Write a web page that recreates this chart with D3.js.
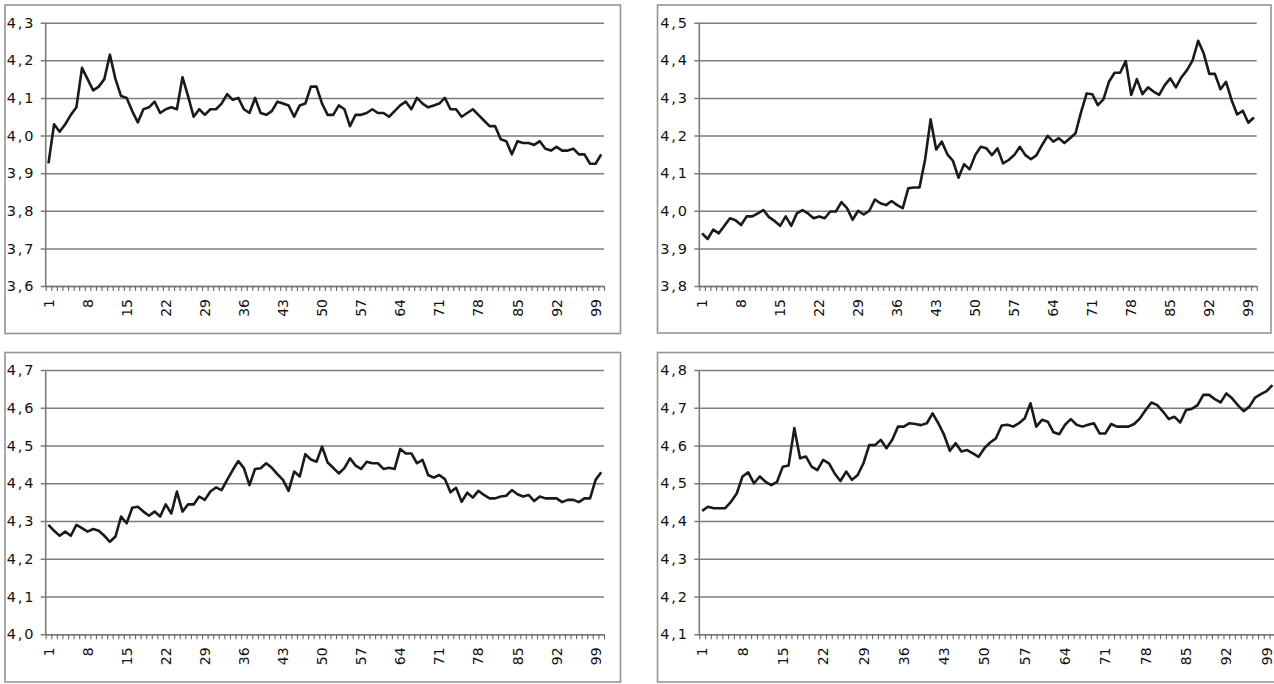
<!DOCTYPE html>
<html>
<head>
<meta charset="utf-8">
<script src="https://cdn.jsdelivr.net/npm/d3@7"></script>
<style>
  html, body { margin: 0; padding: 0; background: #fff; }
  svg { display: block; }
  text { font-family: "DejaVu Sans", "Liberation Sans", Arial, sans-serif; fill: #111; }
</style>
</head>
<body>
<svg id="chart" width="1274" height="684"></svg>
<script>
// categories 1..100, labels every 7th
const categories = d3.range(1, 101);
const xTickLabels = [1, 8, 15, 22, 29, 36, 43, 50, 57, 64, 71, 78, 85, 92, 99];

// y ticks per panel
const yTicks1 = [3.6, 3.7, 3.8, 3.9, 4.0, 4.1, 4.2, 4.3];
const yTicks2 = [3.8, 3.9, 4.0, 4.1, 4.2, 4.3, 4.4, 4.5];
const yTicks3 = [4.0, 4.1, 4.2, 4.3, 4.4, 4.5, 4.6, 4.7];
const yTicks4 = [4.1, 4.2, 4.3, 4.4, 4.5, 4.6, 4.7, 4.8];

// series values
const series1 = [
  3.926, 4.03, 4.01, 4.03, 4.055, 4.075, 4.18, 4.15, 4.12, 4.13,
  4.15, 4.215, 4.15, 4.105, 4.10, 4.065, 4.035, 4.07, 4.075, 4.09,
  4.06, 4.07, 4.075, 4.07, 4.155, 4.105, 4.05, 4.07, 4.055, 4.07,
  4.07, 4.085, 4.11, 4.095, 4.10, 4.07, 4.06, 4.10, 4.06, 4.055,
  4.065, 4.09, 4.085, 4.08, 4.05, 4.08, 4.085, 4.13, 4.13, 4.085,
  4.055, 4.055, 4.08, 4.07, 4.025, 4.055, 4.055, 4.06, 4.07, 4.06,
  4.06, 4.05, 4.065, 4.08, 4.09, 4.07, 4.10, 4.085, 4.075, 4.08,
  4.085, 4.10, 4.07, 4.07, 4.05, 4.06, 4.07, 4.055, 4.04, 4.025,
  4.025, 3.99, 3.985, 3.95, 3.985, 3.98, 3.98, 3.975, 3.985, 3.965,
  3.96, 3.97, 3.96, 3.96, 3.965, 3.95, 3.95, 3.925, 3.925, 3.95
];
const series2 = [
  3.94, 3.925, 3.95, 3.94, 3.96, 3.98, 3.975, 3.962, 3.985, 3.985,
  3.993, 4.002, 3.983, 3.973, 3.96, 3.985, 3.96, 3.993, 4.002, 3.993,
  3.98, 3.985, 3.98, 3.998, 3.998, 4.023, 4.007, 3.976, 4.0, 3.99,
  4.0, 4.03, 4.02, 4.015, 4.026, 4.015, 4.007, 4.06, 4.062, 4.062,
  4.135, 4.243, 4.163, 4.184, 4.15, 4.133, 4.088, 4.124, 4.11, 4.148,
  4.17, 4.166, 4.148, 4.166, 4.126, 4.135, 4.148, 4.17, 4.148, 4.137,
  4.148, 4.175, 4.199, 4.184, 4.193, 4.18, 4.193, 4.206, 4.263, 4.312,
  4.31, 4.281, 4.296, 4.343, 4.367, 4.367, 4.398, 4.308, 4.35, 4.31,
  4.328, 4.317, 4.308, 4.334, 4.352, 4.328, 4.355, 4.374, 4.40, 4.452,
  4.418, 4.364, 4.364, 4.323, 4.343, 4.294, 4.256, 4.266, 4.234, 4.248
];
const series3 = [
  4.29, 4.274, 4.261, 4.272, 4.261, 4.29, 4.281, 4.272, 4.279, 4.274,
  4.261, 4.245, 4.259, 4.312, 4.294, 4.335, 4.338, 4.325, 4.314, 4.325,
  4.312, 4.344, 4.32, 4.378, 4.325, 4.344, 4.344, 4.365, 4.356, 4.378,
  4.389, 4.382, 4.409, 4.435, 4.459, 4.44, 4.395, 4.438, 4.44, 4.453,
  4.441, 4.424, 4.409, 4.38, 4.431, 4.418, 4.477, 4.463, 4.457, 4.497,
  4.455, 4.441, 4.426, 4.44, 4.466, 4.447, 4.438, 4.457, 4.453, 4.453,
  4.438, 4.441, 4.438, 4.491, 4.479, 4.479, 4.453, 4.462, 4.422, 4.415,
  4.422, 4.411, 4.376, 4.388, 4.351, 4.375, 4.362, 4.38, 4.369, 4.36,
  4.36, 4.365, 4.367, 4.382, 4.371, 4.365, 4.369, 4.353, 4.365, 4.36,
  4.36, 4.36, 4.35, 4.356, 4.356, 4.35, 4.36, 4.36, 4.409, 4.429
];
const series4 = [
  4.427, 4.438, 4.434, 4.434, 4.434, 4.451, 4.473, 4.518, 4.529, 4.5,
  4.518, 4.504, 4.495, 4.504, 4.544, 4.547, 4.646, 4.566, 4.571, 4.544,
  4.535, 4.562, 4.553, 4.526, 4.506, 4.531, 4.509, 4.522, 4.553, 4.601,
  4.601, 4.615, 4.593, 4.615, 4.65, 4.65, 4.659, 4.657, 4.654, 4.659,
  4.685, 4.659, 4.628, 4.586, 4.606, 4.584, 4.588, 4.579, 4.57, 4.593,
  4.608, 4.619, 4.653, 4.655, 4.65, 4.659, 4.672, 4.712, 4.65, 4.668,
  4.663, 4.635, 4.63, 4.655, 4.67, 4.655, 4.65, 4.655, 4.659, 4.632,
  4.632, 4.657, 4.65, 4.65, 4.65, 4.657, 4.672, 4.694, 4.714, 4.707,
  4.69, 4.67, 4.676, 4.661, 4.694, 4.697, 4.707, 4.734, 4.734, 4.723,
  4.714, 4.738, 4.725, 4.707, 4.691, 4.703, 4.727, 4.736, 4.744, 4.76
];

/***** LAYOUT *****/
// box = outer frame, plot = inner plotting area
const panels = [
  {values: series1, ticks: yTicks1, box: [5, 5, 620.5, 333.5],     plot: [45.7, 22.7, 604, 286]},
  {values: series2, ticks: yTicks2, box: [657.5, 5, 1271, 333],    plot: [699.3, 22.7, 1256.7, 286]},
  {values: series3, ticks: yTicks3, box: [5, 352.5, 620.5, 682],   plot: [45.7, 370, 604, 634.3]},
  {values: series4, ticks: yTicks4, box: [657.5, 352.5, 1290, 682], plot: [699.3, 370, 1275.3, 634.3]}
];

const GRID = "#7d7d7d";
const fmt = d => d3.format(".1f")(d).replace(".", ",");

const svg = d3.select("#chart");

panels.forEach(p => {
  const [bx0, by0, bx1, by1] = p.box;
  const [px0, py0, px1, py1] = p.plot;
  const w = px1 - px0, h = py1 - py0;

  // outer frame
  svg.append("rect")
    .attr("x", bx0).attr("y", by0)
    .attr("width", bx1 - bx0).attr("height", by1 - by0)
    .attr("fill", "none")
    .attr("stroke", "#959595")
    .attr("stroke-width", 1.6);

  const g = svg.append("g").attr("transform", `translate(${px0},${py0})`);

  const x = d3.scaleLinear().domain([0.5, 100.5]).range([0, w]);
  const y = d3.scaleLinear().domain(d3.extent(p.ticks)).range([h, 0]);

  // gridlines + y ticks + labels
  const yAxis = g.append("g")
    .call(d3.axisLeft(y).tickValues(p.ticks).tickSize(5).tickFormat(fmt));
  yAxis.select(".domain").remove();
  yAxis.selectAll(".tick line")
    .attr("x1", -5).attr("x2", w)
    .attr("stroke", GRID).attr("stroke-width", 1.5);
  yAxis.selectAll(".tick text")
    .attr("x", -10.5)
    .style("font-size", "14.5px")
    .style("letter-spacing", "1.8px")
    .attr("fill", "#111");

  // y axis line
  g.append("line")
    .attr("x1", 0).attr("x2", 0).attr("y1", 0).attr("y2", h)
    .attr("stroke", GRID).attr("stroke-width", 1.6);

  // x axis with a tick at every category boundary
  const xAxis = g.append("g")
    .attr("transform", `translate(0,${h})`)
    .call(d3.axisBottom(x)
      .tickValues(d3.range(0.5, 101, 1))
      .tickSize(5)
      .tickSizeOuter(0)
      .tickFormat(""));
  xAxis.select(".domain").attr("stroke", GRID).attr("stroke-width", 1.6);
  xAxis.selectAll(".tick line").attr("stroke", "#666").attr("stroke-width", 1.1);

  // rotated category labels
  g.selectAll(".xLabel")
    .data(xTickLabels)
    .join("text")
    .attr("class", "xLabel")
    .attr("transform", d => `translate(${x(d)},${h + 13}) rotate(-90)`)
    .attr("text-anchor", "end")
    .attr("dy", "0.36em")
    .style("font-size", "14px")
    .text(d => d);

  // the line
  const line = d3.line()
    .x((d, i) => x(categories[i]))
    .y(d => y(d));

  g.append("path")
    .datum(p.values)
    .attr("d", line)
    .attr("fill", "none")
    .attr("stroke", "#1a1a1a")
    .attr("stroke-width", 2.6)
    .attr("stroke-linejoin", "round");
});
</script>
</body>
</html>
